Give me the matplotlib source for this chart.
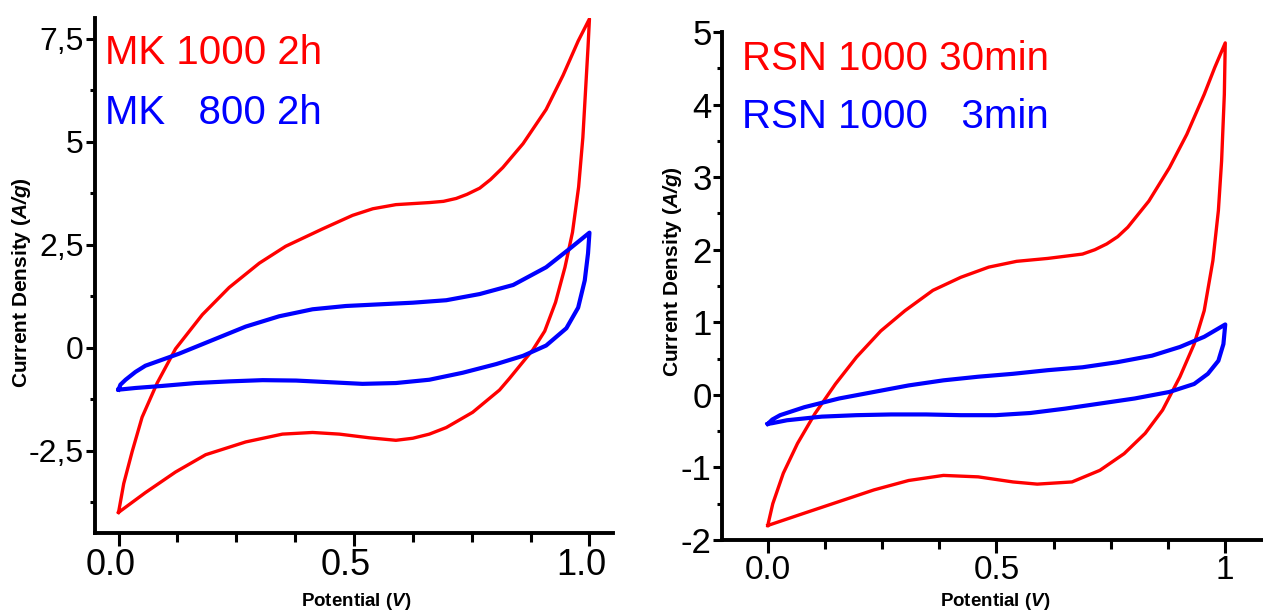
import matplotlib
matplotlib.use("Agg")
import matplotlib.pyplot as plt
import matplotlib.transforms as mtransforms
import numpy as np
from matplotlib.ticker import FixedLocator, FixedFormatter, MultipleLocator

plt.rcParams['font.family'] = ['Liberation Sans', 'DejaVu Sans']
plt.rcParams['mathtext.fontset'] = 'custom'
plt.rcParams['mathtext.rm'] = 'Liberation Sans'
plt.rcParams['mathtext.bf'] = 'Liberation Sans:bold'
plt.rcParams['mathtext.bfit'] = 'Liberation Sans:bold:italic'

# ---------------- MK samples (left panel) ----------------
mk1000_fwd_v = [0.0, 0.011, 0.029, 0.050, 0.082, 0.121, 0.178, 0.235, 0.299, 0.355, 0.433, 0.497,
                0.540, 0.589, 0.660, 0.690, 0.717, 0.740, 0.767, 0.790, 0.816, 0.859, 0.908,
                0.944, 0.976, 1.0]
mk1000_fwd_i = [-4.0, -3.30, -2.52, -1.69, -0.86, -0.03, 0.80, 1.46, 2.05, 2.46, 2.88, 3.21,
                3.37, 3.47, 3.52, 3.55, 3.62, 3.72, 3.87, 4.08, 4.37, 4.95, 5.78,
                6.61, 7.44, 7.98]
mk1000_rev_v = [1.0, 0.997, 0.993, 0.986, 0.977, 0.964, 0.948, 0.928, 0.905, 0.880, 0.855,
                0.830, 0.809, 0.752, 0.696, 0.660, 0.625, 0.589, 0.533, 0.469, 0.412, 0.348,
                0.270, 0.185, 0.121, 0.057, 0.0]
mk1000_rev_i = [7.98, 7.30, 6.50, 5.10, 3.90, 2.80, 1.95, 1.10, 0.40, -0.05, -0.40,
                -0.75, -1.03, -1.57, -1.94, -2.10, -2.20, -2.25, -2.19, -2.10, -2.06, -2.10,
                -2.29, -2.60, -3.02, -3.52, -4.0]

mk800_fwd_v = [0.0, 0.004, 0.015, 0.036, 0.057, 0.128, 0.199, 0.270, 0.341, 0.412, 0.483, 0.554,
               0.625, 0.696, 0.767, 0.838, 0.908, 0.958, 1.0]
mk800_fwd_i = [-1.02, -0.90, -0.78, -0.59, -0.44, -0.15, 0.18, 0.51, 0.76, 0.93, 1.01, 1.05,
               1.09, 1.15, 1.30, 1.52, 1.95, 2.40, 2.79]
mk800_rev_v = [1.0, 0.997, 0.990, 0.976, 0.951, 0.908, 0.859, 0.802, 0.731, 0.660, 0.589,
               0.518, 0.448, 0.377, 0.306, 0.235, 0.164, 0.093, 0.036, 0.010, 0.0]
mk800_rev_i = [2.79, 2.29, 1.63, 0.97, 0.47, 0.05, -0.20, -0.40, -0.61, -0.78, -0.86,
               -0.88, -0.84, -0.80, -0.79, -0.82, -0.86, -0.93, -0.98, -1.01, -1.02]

# ---------------- RSN samples (right panel) ----------------
rsn30_fwd_v = [0.0, 0.011, 0.034, 0.065, 0.103, 0.148, 0.194, 0.247, 0.300, 0.361, 0.422,
               0.483, 0.544, 0.612, 0.688, 0.715, 0.741, 0.765, 0.787, 0.833, 0.878, 0.916,
               0.954, 0.977, 1.0]
rsn30_fwd_i = [-1.80, -1.50, -1.08, -0.67, -0.26, 0.15, 0.52, 0.88, 1.16, 1.44, 1.62,
               1.76, 1.84, 1.88, 1.94, 2.00, 2.08, 2.18, 2.31, 2.67, 3.13, 3.59,
               4.14, 4.51, 4.85]
rsn30_rev_v = [1.0, 0.998, 0.992, 0.985, 0.973, 0.954, 0.932, 0.901, 0.863, 0.825, 0.779,
               0.726, 0.665, 0.589, 0.536, 0.460, 0.384, 0.308, 0.232, 0.156, 0.080, 0.0]
rsn30_rev_i = [4.85, 4.14, 3.22, 2.54, 1.85, 1.16, 0.70, 0.25, -0.21, -0.53, -0.81,
               -1.04, -1.20, -1.23, -1.20, -1.13, -1.11, -1.18, -1.31, -1.47, -1.63, -1.80]

rsn3_fwd_v = [0.0, 0.010, 0.027, 0.080, 0.156, 0.232, 0.308, 0.384, 0.460, 0.536, 0.612, 0.688,
              0.764, 0.840, 0.901, 0.954, 1.0]
rsn3_fwd_i = [-0.40, -0.34, -0.28, -0.17, -0.05, 0.04, 0.13, 0.20, 0.25, 0.29, 0.34, 0.38,
              0.45, 0.54, 0.66, 0.80, 0.97]
rsn3_rev_v = [1.0, 0.996, 0.985, 0.962, 0.932, 0.878, 0.802, 0.726, 0.650, 0.574, 0.498,
              0.422, 0.346, 0.270, 0.194, 0.118, 0.042, 0.010, 0.0]
rsn3_rev_i = [0.97, 0.70, 0.47, 0.29, 0.15, 0.04, -0.05, -0.12, -0.19, -0.25, -0.28,
              -0.28, -0.27, -0.27, -0.28, -0.30, -0.35, -0.39, -0.40]

# ---------------- labels and ticks ----------------
left_names = ["MK 1000 2h", "MK   800 2h"]
right_names = ["RSN 1000 30min", "RSN 1000   3min"]
left_xticks = [0.0, 0.5, 1.0]
left_xticklabels = ["0.0", "0.5", "1.0"]
left_yticks = [-2.5, 0.0, 2.5, 5.0, 7.5]
left_yticklabels = ["-2,5", "0", "2,5", "5", "7,5"]
right_xticks = [0.0, 0.5, 1.0]
right_xticklabels = ["0.0", "0.5", "1"]
right_yticks = [-2, -1, 0, 1, 2, 3, 4, 5]
right_yticklabels = ["-2", "-1", "0", "1", "2", "3", "4", "5"]

RED = "#ff0000"
BLUE = "#0000ff"

W, H = 1263, 612
fig = plt.figure(figsize=(W / 100, H / 100), dpi=100)
fig.patch.set_facecolor("white")

ax1 = fig.add_axes([95 / W, 1 - 533 / H, 518 / W, 515 / H])
ax2 = fig.add_axes([722 / W, 1 - 540 / H, 549 / W, 508 / H])


def loop(fv, fi, rv, ri):
    return np.concatenate([fv, rv]), np.concatenate([fi, ri])


v, i = loop(mk1000_fwd_v, mk1000_fwd_i, mk1000_rev_v, mk1000_rev_i)
ax1.plot(v, i, color=RED, lw=2.4, solid_joinstyle="round")
v, i = loop(mk800_fwd_v, mk800_fwd_i, mk800_rev_v, mk800_rev_i)
ax1.plot(v, i, color=BLUE, lw=3.0, solid_joinstyle="round")

v, i = loop(rsn30_fwd_v, rsn30_fwd_i, rsn30_rev_v, rsn30_rev_i)
ax2.plot(v, i, color=RED, lw=2.4, solid_joinstyle="round")
v, i = loop(rsn3_fwd_v, rsn3_fwd_i, rsn3_rev_v, rsn3_rev_i)
ax2.plot(v, i, color=BLUE, lw=3.0, solid_joinstyle="round")

ax1.set_xlim(-0.05, 1.05)
ax1.set_ylim(-4.5, 8.0)
ax2.set_xlim(-0.1, 1.1)
ax2.set_ylim(-2.0, 5.0)


def style(ax, xt, xtl, yt, ytl, ymin, xsize, ysize, xpad, ypad):
    for s in ("top", "right"):
        ax.spines[s].set_visible(False)
    for s in ("left", "bottom"):
        ax.spines[s].set_linewidth(2.8)
        ax.spines[s].set_color("black")
    ax.xaxis.set_major_locator(FixedLocator(xt))
    ax.xaxis.set_major_formatter(FixedFormatter(xtl))
    ax.yaxis.set_major_locator(FixedLocator(yt))
    ax.yaxis.set_major_formatter(FixedFormatter(ytl))
    ax.xaxis.set_minor_locator(MultipleLocator(0.125))
    ax.yaxis.set_minor_locator(MultipleLocator(ymin))
    ax.tick_params(axis="x", which="major", direction="out", length=9.5, width=2.2,
                   labelsize=xsize, pad=xpad)
    ax.tick_params(axis="x", which="minor", direction="out", length=6.5, width=2.2)
    ax.tick_params(axis="y", which="major", direction="out", length=6.5, width=2.2,
                   labelsize=ysize, pad=ypad)
    ax.tick_params(axis="y", which="minor", direction="out", length=3.6, width=2.2)


style(ax1, left_xticks, left_xticklabels, left_yticks, left_yticklabels, 1.25, 26, 23, 1.5, 1.5)
style(ax2, right_xticks, right_xticklabels, right_yticks, right_yticklabels, 0.5, 24, 25, 1.0, 1.0)

# left-panel potential labels sit slightly left of their ticks
shift = mtransforms.ScaledTranslation(-8 / 100, 0, fig.dpi_scale_trans)
for lbl in ax1.get_xticklabels():
    lbl.set_transform(lbl.get_transform() + shift)

# sample names
ax1.text(0.019, 0.911, left_names[0], color=RED, fontsize=29, transform=ax1.transAxes, va="baseline")
ax1.text(0.019, 0.794, left_names[1], color=BLUE, fontsize=29, transform=ax1.transAxes, va="baseline")
ax2.text(0.036, 0.925, right_names[0], color=RED, fontsize=29, transform=ax2.transAxes, va="baseline")
ax2.text(0.036, 0.811, right_names[1], color=BLUE, fontsize=29, transform=ax2.transAxes, va="baseline")

# axis titles
ylab = r"Current Density ($\mathbfit{A/g}$)"
xlab = r"Potential ($\mathbfit{V}$)"
fig.text(22 / W, 1 - 283 / H, ylab, rotation=90, ha="center", va="center",
         fontsize=15, fontweight="bold")
fig.text(672 / W, 1 - 272 / H, ylab, rotation=90, ha="center", va="center",
         fontsize=15, fontweight="bold")
fig.text(356 / W, 1 - 602 / H, xlab, ha="center", va="center", fontsize=13.5, fontweight="bold")
fig.text(995 / W, 1 - 602 / H, xlab, ha="center", va="center", fontsize=13.5, fontweight="bold")

fig.savefig("out.png", dpi=100, facecolor="white")
